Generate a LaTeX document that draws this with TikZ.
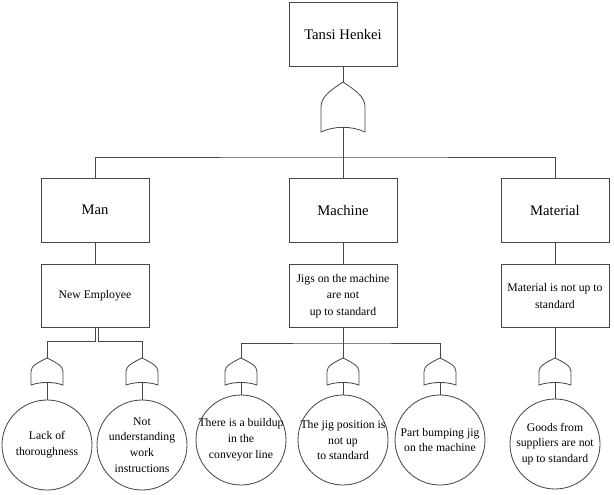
\documentclass[tikz,border=0pt]{standalone}
\usepackage{fontspec}
\setmainfont{Liberation Serif}
\usetikzlibrary{positioning,calc}
\definecolor{ftaline}{RGB}{70,70,70}

\tikzset{
    orgate/.pic={
        \draw[ftaline, line width=0.7pt] (0,0) .. controls (-0.6,0.35) and (-1,0.6) .. (-1,1)
            -- (-1,2) .. controls (-0.4,1.75) and (0.4,1.75) .. (1,2)
            -- (1,1) .. controls (1,0.6) and (0.6,0.35) .. (0,0) -- cycle;
        \coordinate (-in) at (0,0);
        \coordinate (-out) at (0,1.81);
    }
}

\begin{document}
\begin{tikzpicture}[
    x=0.03cm, y=-0.03cm,
    conn/.style={ftaline, line width=0.7pt},
    bigbox/.style={draw=ftaline, line width=0.7pt, minimum width=3.24cm, minimum height=1.92cm, font=\fontsize{12.5}{15}\selectfont},
    causebox/.style={draw=ftaline, line width=0.7pt, minimum width=3.24cm, minimum height=1.89cm, align=center, font=\fontsize{10}{14}\selectfont},
    event/.style={circle, draw=ftaline, line width=0.7pt, minimum size=2.7cm, inner sep=0pt},
    evtext/.style={align=center, inner sep=0pt, font=\fontsize{10}{13.5}\selectfont}
]
\useasboundingbox (0,0) rectangle (614,494);

% Top event
\node[bigbox] (top) at (343,34) {Tansi Henkei};
\pic[xscale=22, yscale=25] (topor) at (343,82) {orgate};
\coordinate (bus) at (343,157);
\draw[conn] (top) -- (topor-in);
\draw[conn] (topor-out) -- (bus);

% Main categories
\node[bigbox] (man) at (95,210) {Man};
\node[bigbox] (machine) at (343,210) {Machine};
\node[bigbox] (material) at (555,210) {Material};

\draw[conn] (man.north) |- (bus) -| (material.north);
\draw[conn] (machine.north) -- (bus);

% Causes
\node[causebox] (newemp) at (95,296) {New Employee};
\node[causebox] (jigs) at (343,296) {Jigs on the machine\\are not\\up to standard};
\node[causebox] (matstd) at (555,296) {Material is not up to\\standard};

\draw[conn] (man) -- (newemp);
\draw[conn] (machine) -- (jigs);
\draw[conn] (material) -- (matstd);

% Small OR gates
\foreach \g/\x in {lackor/47, notor/142, buildor/241, posor/343, bumpor/440, goodsor/555}
    \pic[xscale=16, yscale=13.5] (\g) at (\x,358) {orgate};

% Branches
\coordinate (manjoin) at (95,341);
\coordinate (manjoin2) at (98,341);
\coordinate (machjoin) at (343,343);

\draw[conn] (newemp.south) -- (manjoin) -| (lackor-in);
\draw[conn] ([xshift=0.09cm]newemp.south) -- (manjoin2) -| (notor-in);
\draw[conn] (jigs) -- (machjoin);
\draw[conn] (buildor-in) |- (machjoin) -| (bumpor-in);
\draw[conn] (machjoin) -- (posor-in);
\draw[conn] (matstd) -- (goodsor-in);

% Basic events
\node[event, label={[evtext]center:Lack of\\thoroughness}] (lack) at (47,445) {};
\node[event, label={[evtext]center:Not\\understanding\\work\\instructions}] (notund) at (142,445) {};
\node[event, label={[evtext]center:There is a buildup\\in the\\conveyor line}] (buildup) at (241,440) {};
\node[event, label={[evtext]center:The jig position is\\not up\\to standard}] (jigpos) at (343,440) {};
\node[event, label={[evtext]center:Part bumping jig\\on the machine}] (bump) at (440,440) {};
\node[event, label={[evtext]center:Goods from\\suppliers are not\\up to standard}] (goods) at (555,444) {};

\foreach \g/\e in {lackor/lack, notor/notund, buildor/buildup, posor/jigpos, bumpor/bump, goodsor/goods}
    \draw[conn] (\g-out) -- (\e);

\end{tikzpicture}
\end{document}
